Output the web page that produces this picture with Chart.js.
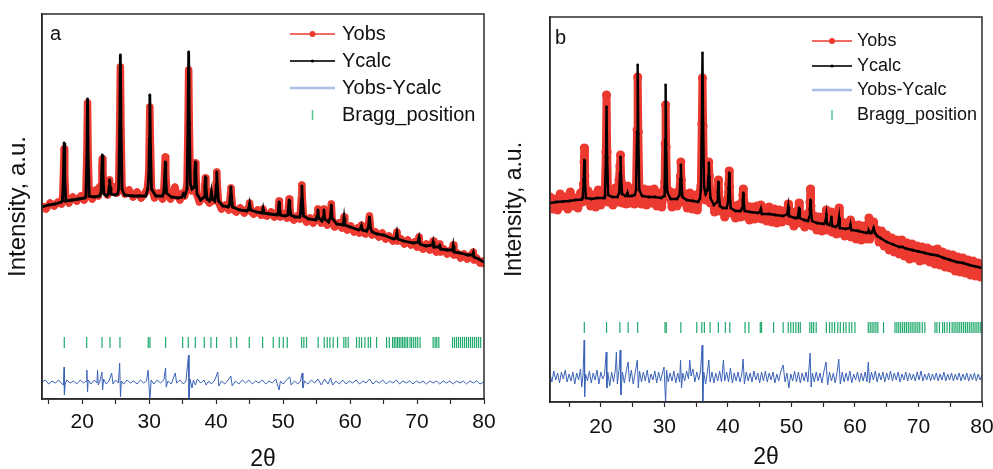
<!DOCTYPE html>
<html>
<head>
<meta charset="utf-8">
<script src="https://cdn.jsdelivr.net/npm/chart.js@4.4.1/dist/chart.umd.min.js"></script>
<style>
  html, body { margin: 0; padding: 0; background: #fff; }
  #wrap { position: relative; width: 993px; height: 469px; overflow: hidden; }
  .panel { position: absolute; top: 0; }
</style>
</head>
<body>
<div id="wrap">
  <div class="panel" style="left:0"><canvas id="chartA" width="500" height="469"></canvas></div>
  <div class="panel" style="left:500px"><canvas id="chartB" width="493" height="469"></canvas></div>
</div>
<script>
// ---- panel a data (2theta, intensity a.u.) ----
const calcA = [[14,192],[15,194],[16,195],[16.9,197],
  [17.05,198],[17.2,222],[17.3,256],[17.4,222],[17.55,198],
  [18.5,199],[19.5,200],[20.4,201],
  [20.55,202],[20.7,240],[20.8,300],[20.9,240],[21.05,203],
  [21.8,202],[22.6,203],
  [22.8,206],[22.92,225],[23.0,244],[23.1,225],[23.25,205],
  [23.7,203],
  [23.9,205],[24.02,212],[24.1,219],[24.18,212],[24.3,205],
  [24.9,204],[25.3,205],
  [25.45,210],[25.6,270],[25.7,344],[25.8,270],[25.95,210],
  [26.3,204],[27.5,203],[28.5,203],[29.5,203],
  [29.8,210],[29.95,225],[30.05,260],[30.1,304],[30.2,250],[30.35,210],
  [31,203],[32,203],
  [32.2,207],[32.32,222],[32.4,237],[32.48,222],[32.6,206],
  [33.3,202],[34.3,201],[34.9,202],[35.1,205],[35.3,203],
  [35.65,210],[35.8,275],[35.9,347],[36.0,275],[36.15,215],[36.4,210],
  [36.7,212],[36.82,225],[36.9,237],[36.98,224],[37.15,205],
  [37.7,199],
  [38.2,202],[38.32,212],[38.4,222],[38.48,212],[38.65,200],
  [39.0,198],[39.15,200],[39.3,207],[39.45,200],[39.8,198],
  [39.9,202],[40.02,214],[40.1,227],[40.18,214],[40.35,198],
  [41,193],[41.8,192],
  [42.0,194],[42.12,203],[42.2,212],[42.28,203],[42.45,192],
  [43.5,189],[44.6,188],
  [44.85,190],[45.0,195],[45.15,189],
  [46,187],[46.8,186],
  [46.9,187],[47.0,190],[47.1,186],
  [48,185],[49.1,184],
  [49.25,186],[49.33,191],[49.4,197],[49.47,191],[49.6,184],
  [50.3,183],[50.7,184],
  [50.8,190],[50.9,199],[51.0,191],[51.15,184],
  [51.8,182],[52.5,182],
  [52.6,186],[52.72,199],[52.8,213],[52.88,199],[53.05,183],
  [53.8,180],[54.9,179],
  [55.08,183],[55.2,189],[55.32,181],
  [55.8,178],
  [55.98,182],[56.1,189],[56.22,180],
  [56.8,177],
  [57.08,182],[57.2,194],[57.32,181],
  [58,175],[58.9,174],
  [59.0,176],[59.1,181],[59.22,174],
  [60,172],[61.3,169],
  [61.6,171],[61.7,173],[61.85,169],
  [62.5,168],
  [62.75,172],[62.9,182],[63.05,171],[63.3,167],
  [64,165],[65,164],[66.5,160],
  [66.85,161],[67.0,166],[67.15,160],
  [68,158],[69.5,156],
  [70.15,157],[70.3,161],[70.45,155],
  [71.3,153],
  [72.28,154],[72.4,157],[72.52,152],
  [73.3,152],[73.4,154],[73.52,150],
  [74.5,149],
  [75.3,149],[75.4,153],[75.52,147],
  [76.5,146],[77.6,144],
  [78.3,144],[78.4,146],[78.52,142],
  [79.2,140],[80,137]];

const obsA = [[14,193],[14.6,190],[15.2,196],[15.8,193],[16.4,197],[16.9,195],
  [17.1,203],[17.2,225],[17.3,250],[17.4,222],[17.55,200],
  [18,196],[18.6,202],[19.2,198],[19.8,203],[20.3,199],
  [20.55,205],[20.7,245],[20.8,296],[20.9,242],[21.05,204],
  [21.5,200],[22,209],[22.4,203],[22.6,212],
  [22.85,214],[22.95,232],[23.0,240],[23.1,226],[23.3,209],
  [23.6,214],[23.8,204],
  [24.0,214],[24.1,219],[24.2,211],[24.4,207],
  [24.8,212],[25.2,206],
  [25.45,214],[25.6,272],[25.7,332],[25.8,268],[25.95,212],
  [26.4,205],[27,209],[27.6,202],[28.2,207],[28.8,201],[29.4,206],
  [29.75,211],[29.95,228],[30.1,292],[30.2,252],[30.35,211],
  [30.8,201],[31.4,206],[32,200],
  [32.2,210],[32.32,228],[32.4,242],[32.48,226],[32.65,206],
  [33.2,200],[33.6,207],[33.85,212],[34.1,204],[34.6,199],[35.0,206],[35.3,203],
  [35.65,214],[35.8,272],[35.9,329],[36.0,272],[36.15,214],[36.4,208],
  [36.7,214],[36.82,226],[36.9,236],[36.98,224],[37.15,204],
  [37.5,197],[37.9,202],
  [38.2,204],[38.32,214],[38.4,221],[38.48,211],[38.65,199],
  [39.0,196],[39.15,201],[39.3,207],[39.45,198],[39.8,199],
  [39.9,204],[40.02,217],[40.1,227],[40.18,214],[40.35,197],
  [40.8,190],[41.4,194],[41.9,189],
  [42.05,197],[42.15,206],[42.22,211],[42.3,202],[42.5,190],
  [43,187],[43.6,191],[44.2,186],[44.7,190],
  [44.9,192],[45.0,196],[45.15,188],
  [45.6,185],[46.2,189],[46.7,184],
  [46.9,188],[47.0,190],[47.15,184],
  [47.6,183],[48.2,187],[48.7,182],[49.1,186],
  [49.25,188],[49.33,193],[49.4,198],[49.47,191],[49.6,182],
  [50.1,185],[50.6,181],
  [50.8,192],[50.9,200],[51.0,193],[51.15,183],
  [51.6,179],[52.1,183],[52.5,180],
  [52.6,188],[52.72,201],[52.8,214],[52.88,200],[53.05,182],
  [53.5,177],[54,181],[54.5,176],[54.9,180],
  [55.08,184],[55.2,190],[55.32,180],
  [55.7,176],
  [55.98,183],[56.1,190],[56.22,178],
  [56.6,174],[56.9,178],
  [57.08,184],[57.2,195],[57.32,180],
  [57.7,172],[58.3,176],[58.8,171],
  [59.0,177],[59.1,182],[59.22,172],
  [59.6,169],[60.1,173],[60.6,167],[61.1,171],[61.4,166],
  [61.6,172],[61.7,174],[61.85,167],
  [62.3,165],[62.6,170],
  [62.75,174],[62.9,183],[63.05,172],[63.3,164],
  [63.8,167],[64.3,162],[64.8,166],[65.3,160],[65.8,163],[66.4,158],
  [66.85,162],[67.0,167],[67.15,158],
  [67.6,160],[68.1,155],[68.6,159],[69.1,154],[69.6,157],[70.0,152],
  [70.15,158],[70.3,162],[70.45,153],
  [70.9,150],[71.4,155],[71.9,149],
  [72.28,155],[72.4,158],[72.52,150],
  [72.9,147],
  [73.3,153],[73.4,155],[73.52,147],
  [74,150],[74.5,145],[75,149],
  [75.3,150],[75.4,154],[75.52,144],
  [76,146],[76.5,141],[77,145],[77.5,140],[78,144],
  [78.3,145],[78.4,147],[78.52,139],
  [78.9,141],[79.4,136],[79.9,138],[80,135]];

const diffA = [[14,17],[14.5,19],[15,15],[15.5,18],[16,16],[16.5,19],[17,15],
  [17.2,14],[17.3,32],[17.35,4],[17.45,15],[17.7,19],
  [18.2,16],[18.7,18],[19.2,15],[19.7,19],[20.2,16],
  [20.6,18],[20.7,29],[20.8,7],[20.9,19],[21.3,15],[21.8,19],
  [22.2,16],[22.3,29],[22.4,14],[22.7,19],[22.95,27],[23.05,9],[23.2,20],[23.6,15],
  [24.0,18],[24.4,26],[24.6,15],[25.0,19],[25.4,16],[25.6,36],[25.72,2],[25.85,18],
  [26.2,15],[26.7,19],[27.2,16],[27.7,18],[28.2,15],[28.7,19],[29.2,16],[29.6,18],
  [29.85,29],[30.1,-2],[30.3,19],[30.7,15],[31.2,19],[31.7,16],[32.2,19],
  [32.45,31],[32.55,12],[32.8,18],[33.3,15],[33.9,26],[34.1,16],[34.6,19],[35.1,15],[35.5,18],
  [35.88,44],[35.95,-4],[36.1,20],[36.4,11],[36.6,19],[36.9,14],[37.2,20],[37.7,16],[38.2,19],
  [38.5,14],[38.9,18],[39.3,15],[39.8,19],
  [40.25,27],[40.4,13],[40.8,18],[41.3,15],[41.8,19],[42.2,23],[42.4,13],[42.9,18],[43.4,15],
  [43.9,19],[44.4,16],[44.9,19],[45.4,15],[45.9,18],[46.4,16],[46.9,19],[47.4,15],[47.9,18],
  [48.4,16],[48.9,20],[49.4,9],[49.6,18],[50.0,15],[50.5,19],[51.0,22],[51.2,14],[51.7,18],
  [52.2,15],[52.6,18],[52.85,26],[52.95,11],[53.2,18],[53.7,15],[54.2,19],[54.7,16],[55.2,20],
  [55.7,14],[56.2,20],[56.7,15],[57.1,21],[57.4,14],[57.9,18],[58.4,15],[58.9,19],[59.4,15],
  [59.9,18],[60.4,16],[60.9,19],[61.4,15],[61.9,18],[62.4,16],[62.9,20],[63.4,15],[63.9,18],
  [64.4,16],[64.9,19],[65.4,15],[65.9,18],[66.4,16],[66.9,19],[67.4,15],[67.9,18],[68.4,16],
  [68.9,18],[69.4,15],[69.9,18],[70.4,16],[70.9,18],[71.4,15],[71.9,18],[72.4,16],[72.9,18],
  [73.4,15],[73.9,18],[74.4,16],[74.9,18],[75.4,15],[75.9,18],[76.4,16],[76.9,18],[77.4,15],
  [77.9,18],[78.4,16],[78.9,18],[79.4,15],[80,17]];

const braggA = [17.33,20.67,22.96,24.15,25.64,29.87,30.12,32.46,35.0,35.84,36.89,38.23,39.23,40.07,
  42.21,43.06,44.95,46.94,48.53,49.43,50.03,50.62,52.76,53.1,53.5,55.24,56.14,56.59,56.99,57.48,
  58.13,59.07,59.37,59.72,60.97,61.37,61.72,62.22,62.72,63.06,63.96,65.45,65.85,
  66.35,66.6,66.85,67.1,67.35,67.6,67.85,68.1,68.35,68.6,68.95,69.2,69.5,69.8,70.1,70.45,
  72.4,72.7,72.95,73.25,75.3,75.6,75.9,76.2,76.5,76.8,77.1,77.4,77.7,78.0,78.3,78.6,78.9,79.2,79.5];
const braggLevelA = 56.5;

// ---- panel b data ----
const calcB = [[12,199],[13,200],[14,200.5],[15,201],[16,202],[17.0,202.5],
  [17.15,204],[17.3,222],[17.4,242],[17.5,221],[17.65,204],
  [18.5,203],[19.5,204],[20.5,204],
  [20.65,206],[20.8,245],[20.9,295],[21.0,244],[21.15,207],
  [21.8,205],[22.6,205],
  [22.9,209],[23.02,228],[23.1,245],[23.18,226],[23.35,208],
  [23.9,206],[24.1,207],[24.2,209],[24.3,206],
  [24.9,206],[25.35,207],
  [25.55,212],[25.7,270],[25.8,337],[25.9,268],[26.05,212],
  [26.5,206],[27.5,205],[28.5,205],[29.5,204],[29.95,206],
  [30.05,215],[30.13,262],[30.2,317],[30.28,258],[30.45,210],
  [31,203],[32,203],
  [32.4,207],[32.52,223],[32.6,237],[32.68,222],[32.85,205],
  [33.5,202],[34.5,201],[35.3,200],[35.6,203],
  [35.75,212],[35.9,280],[36.0,349],[36.1,278],[36.25,215],[36.5,208],
  [36.8,212],[36.92,226],[37.0,239],[37.08,225],[37.25,204],
  [37.8,197],
  [38.3,200],[38.42,210],[38.5,220],[38.58,209],[38.75,196],
  [39.2,194],[39.8,194],
  [40.0,199],[40.12,214],[40.2,229],[40.28,213],[40.45,194],
  [41.2,191],[42,191],
  [42.25,194],[42.35,202],[42.42,209],[42.5,200],[42.65,191],
  [43.5,190],[44.7,189],
  [45.05,190],[45.2,193],[45.35,188],
  [46.5,188],[47.5,187],[48.7,186],
  [49.35,188],[49.5,195],[49.62,186],
  [50.5,184],[50.9,184],
  [51.08,187],[51.2,194],[51.32,184],
  [52,182],[52.6,181],
  [52.82,185],[52.92,193],[53.0,202],[53.08,192],[53.25,181],
  [54,179],[55.1,178],
  [55.38,181],[55.5,187],[55.62,178],
  [56.0,177],
  [56.2,179],[56.3,185],[56.42,176],
  [57.0,175],
  [57.38,178],[57.5,184],[57.62,174],
  [58.5,173],
  [59.2,174],[59.3,177],[59.42,172],
  [60.5,171],[61.8,169],
  [62.1,170],[62.2,171],[62.35,169],
  [62.6,169],[62.8,171],[62.95,174],[63.15,169],[63.5,166],
  [64,164],[65,160],[66,157.5],[67,155],[67.5,155],[68,153.5],[69,152],[70,150.5],[71,149],
  [72,147.5],[73,146.5],[74,144],[75,142],[76,140],[77,139],[78,137],[79,135.5],[80,134]];

const obsB = [[12,205],[12.4,193],[12.8,203],[13.2,192],[13.6,208],[14,196],[14.4,205],[14.8,193],
  [15.2,210],[15.6,196],[16,204],[16.4,194],[16.8,209],
  [17.1,200],[17.25,218],[17.35,240],[17.4,254],[17.5,226],[17.65,202],
  [18,211],[18.4,196],[18.8,207],[19.2,195],[19.6,212],[20,197],[20.4,209],
  [20.65,214],[20.8,250],[20.9,307],[21.0,250],[21.15,200],
  [21.5,211],[21.9,197],[22.3,214],[22.6,200],
  [22.85,222],[23.0,236],[23.1,247],[23.2,221],[23.4,199],
  [23.7,214],[24.0,198],[24.2,216],[24.5,199],[24.9,213],[25.3,198],
  [25.55,216],[25.7,272],[25.8,325],[25.9,270],[26.05,212],
  [26.4,198],[26.8,213],[27.2,197],[27.6,212],[28,199],[28.4,213],[28.8,196],[29.2,209],[29.6,195],[29.9,210],
  [30.05,220],[30.13,258],[30.2,297],[30.28,255],[30.45,206],
  [30.8,211],[31.2,195],[31.6,209],[32.0,196],
  [32.4,212],[32.52,226],[32.6,240],[32.68,222],[32.85,200],
  [33.2,208],[33.6,194],[34,209],[34.4,193],[34.8,207],[35.2,192],[35.5,208],
  [35.75,216],[35.9,278],[36.0,324],[36.1,276],[36.25,220],[36.5,202],
  [36.8,216],[36.92,228],[37.0,240],[37.08,226],[37.25,199],
  [37.6,204],[37.9,190],
  [38.3,205],[38.42,213],[38.5,222],[38.58,210],[38.75,191],
  [39.1,200],[39.5,185],[39.8,198],
  [40.0,204],[40.12,218],[40.2,231],[40.28,215],[40.45,189],
  [40.8,196],[41.2,184],[41.6,197],[42.0,185],
  [42.25,200],[42.35,207],[42.42,213],[42.5,202],[42.65,186],
  [43,196],[43.4,182],[43.8,195],[44.2,183],[44.6,196],[44.9,184],
  [45.1,195],[45.2,197],[45.35,183],
  [45.7,194],[46.1,181],[46.5,195],[46.9,180],[47.3,193],[47.7,179],[48.1,192],[48.5,180],[48.9,191],
  [49.35,192],[49.5,198],[49.62,181],
  [50,190],[50.4,176],[50.8,190],
  [51.08,192],[51.2,199],[51.32,179],
  [51.7,187],[52.1,175],[52.5,188],
  [52.82,190],[52.92,200],[53.0,213],[53.08,196],[53.25,176],
  [53.6,186],[54,172],[54.4,185],[54.8,171],[55.1,184],
  [55.38,187],[55.5,192],[55.62,172],
  [55.9,183],
  [56.2,185],[56.3,190],[56.42,170],
  [56.8,181],[57.1,168],
  [57.38,184],[57.5,194],[57.62,169],
  [58,180],[58.4,166],[58.8,179],
  [59.2,180],[59.3,182],[59.42,165],
  [59.8,177],[60.2,163],[60.6,177],[61,162],[61.4,176],[61.8,163],
  [62.1,178],[62.2,184],[62.35,163],
  [62.6,174],[62.8,177],[62.95,180],[63.15,168],[63.5,172],
  [63.8,160],[64.2,171],[64.6,156],[65,167],[65.4,152],[65.8,164],[66.2,150],[66.6,162],[67,148],
  [67.4,162],[67.8,146],[68.2,159],[68.6,143],[69,158],[69.4,144],[69.8,156],[70.2,141],[70.6,155],
  [71,142],[71.4,154],[71.8,140],[72.2,152],[72.6,138],[73,153],[73.4,137],[73.8,150],[74.2,135],
  [74.6,148],[75,134],[75.4,147],[75.8,131],[76.2,145],[76.6,130],[77,144],[77.4,129],[77.8,142],
  [78.2,127],[78.6,141],[79,126],[79.4,139],[79.8,125],[80,136]];

const diffB = [[12,28],[12.3,20],[12.6,31],[12.9,22],[13.2,29],[13.5,19],[13.8,30],[14.1,23],[14.4,32],
  [14.7,20],[15,28],[15.3,21],[15.6,30],[15.9,18],[16.2,29],[16.5,22],[16.8,33],[17.0,15],[17.2,27],
  [17.38,62],[17.45,5],[17.6,28],[17.9,21],[18.2,31],[18.5,19],[18.8,29],[19.1,22],[19.4,32],[19.7,18],
  [20.0,30],[20.3,23],[20.6,28],
  [20.85,50],[20.95,14],[21.1,30],[21.4,16],[21.7,30],[22.0,20],[22.3,33],[22.45,50],[22.6,18],[22.9,34],
  [23.05,52],[23.15,7],[23.4,30],[23.7,19],[24.0,31],[24.3,40],[24.5,20],[24.8,32],[25.1,18],[25.4,29],
  [25.75,42],[25.9,14],[26.1,31],[26.4,20],[26.7,30],[27,21],[27.3,32],[27.6,19],[27.9,28],[28.2,22],
  [28.5,31],[28.8,19],[29.1,30],[29.4,21],[29.7,29],[29.95,35],
  [30.2,-2],[30.35,32],[30.6,20],[30.9,29],[31.2,21],[31.5,31],[31.8,19],[32.1,29],[32.4,20],[32.55,42],
  [32.7,14],[32.9,29],[33.2,21],[33.5,31],[33.8,23],[34.0,42],[34.2,26],[34.5,33],[34.8,20],[35.1,30],
  [35.4,22],[35.7,31],
  [35.95,57],[36.05,-3],[36.2,30],[36.5,18],[36.8,31],[37.0,42],[37.2,20],[37.5,30],[37.8,19],[38.1,29],
  [38.4,21],[38.7,31],[39.0,20],[39.3,42],[39.5,21],[39.8,30],[40.1,20],[40.4,34],[40.7,19],[41.0,29],
  [41.3,21],[41.6,30],[41.9,20],[42.2,28],[42.4,43],[42.6,18],[42.9,30],[43.2,21],[43.5,29],[43.8,20],
  [44.1,31],[44.4,22],[44.7,29],[45.0,19],[45.3,30],[45.6,21],[45.9,31],[46.2,20],[46.5,29],[46.8,22],
  [47.1,30],[47.4,19],[47.7,28],[48.0,21],[48.3,30],[48.7,37],[49.0,20],[49.3,29],[49.6,14],[49.9,28],
  [50.2,21],[50.5,31],[50.8,20],[51.1,30],[51.4,19],[51.7,29],[52.0,21],[52.3,30],[52.6,20],
  [52.95,49],[53.1,15],[53.3,29],[53.6,20],[53.9,30],[54.2,21],[54.5,29],[54.8,19],[55.1,30],[55.45,40],
  [55.7,17],[56.0,30],[56.3,21],[56.6,29],[56.9,19],[57.2,30],[57.45,43],[57.7,18],[58,30],[58.3,20],
  [58.6,29],[58.9,21],[59.2,31],[59.5,19],[59.8,28],[60.1,22],[60.4,30],[60.7,20],[61.0,29],[61.3,21],
  [61.6,30],[61.9,20],[62.1,40],[62.3,19],[62.6,30],[62.9,22],[63.2,31],[63.5,20],[63.8,29],[64.1,22],
  [64.4,30],[64.7,20],[65.0,29],[65.3,22],[65.6,31],[65.9,21],[66.2,29],[66.5,22],[66.8,30],[67.1,20],
  [67.4,28],[67.7,22],[68.0,30],[68.3,21],[68.6,29],[68.9,22],[69.2,28],[69.5,21],[69.8,30],[70.1,22],
  [70.4,31],[70.7,21],[71.0,28],[71.3,22],[71.6,29],[71.9,21],[72.2,28],[72.5,22],[72.8,29],[73.1,21],
  [73.4,28],[73.7,22],[74.0,30],[74.3,21],[74.6,28],[74.9,22],[75.2,29],[75.5,21],[75.8,28],[76.1,22],
  [76.4,29],[76.7,21],[77.0,28],[77.3,22],[77.6,29],[77.9,21],[78.2,28],[78.5,22],[78.8,29],[79.1,21],
  [79.4,28],[79.7,22],[80,27]];

const braggB = [17.4,20.9,23.0,24.3,25.8,30.1,30.3,32.6,35.1,35.9,36.3,37.2,38.5,39.6,40.3,42.7,43.3,
  45.1,45.3,47.2,48.7,49.5,49.9,50.3,50.7,51.1,51.4,52.9,53.2,53.5,53.9,55.5,56.0,56.4,56.8,57.3,
  57.7,58.2,58.6,59.1,59.5,60.0,62.1,62.4,62.7,63.0,63.3,63.6,64.5,66.3,66.6,66.9,67.2,67.5,67.8,
  68.1,68.4,68.7,69.0,69.3,69.6,69.9,70.2,70.6,71.0,72.6,72.9,73.3,73.8,74.1,74.5,74.9,75.3,75.6,
  75.9,76.2,76.5,76.8,77.1,77.4,77.7,78.0,78.3,78.6,78.9,79.2,79.5,79.8];
const braggLevelB = 74.5;

const seriesNames = ['Yobs', 'Ycalc', 'Yobs-Ycalc', 'Bragg_position'];
const xTicks = [20, 30, 40, 50, 60, 70, 80];

const FONT = '"Liberation Sans", Arial, Helvetica, sans-serif';
const RED = '#ec3a30';
const BLUE = '#3b63b7';
const GREEN = '#1ea96b';

const pts = arr => arr.map(([x, y]) => ({ x, y }));

// frame, panel letter and legend
const decorPlugin = {
  id: 'decor',
  afterDraw(chart, args, o) {
    const { ctx, chartArea: a } = chart;
    ctx.save();
    ctx.strokeStyle = '#2b2b2b';
    ctx.lineWidth = 1.5;
    ctx.strokeRect(a.left, a.top, a.right - a.left, a.bottom - a.top);

    ctx.fillStyle = '#111';
    ctx.textBaseline = 'middle';
    ctx.textAlign = 'left';
    ctx.font = '20px ' + FONT;
    ctx.fillText(o.letter, o.letterX, o.letterY);

    ctx.font = o.legendSize + 'px ' + FONT;
    const mid = (o.x0 + o.x1) / 2;
    o.rows.forEach((y, i) => {
      ctx.lineCap = 'butt';
      if (i === 0) {
        ctx.strokeStyle = RED; ctx.lineWidth = 1.3;
        ctx.beginPath(); ctx.moveTo(o.x0, y); ctx.lineTo(o.x1, y); ctx.stroke();
        ctx.fillStyle = RED;
        ctx.beginPath(); ctx.arc(mid, y, 3, 0, Math.PI * 2); ctx.fill();
      } else if (i === 1) {
        ctx.strokeStyle = '#333'; ctx.lineWidth = 2;
        ctx.beginPath(); ctx.moveTo(o.x0, y); ctx.lineTo(o.x1, y); ctx.stroke();
        ctx.fillStyle = '#000';
        ctx.beginPath(); ctx.arc(mid, y, 1.6, 0, Math.PI * 2); ctx.fill();
      } else if (i === 2) {
        ctx.strokeStyle = '#a9c0e8'; ctx.lineWidth = 2.5;
        ctx.beginPath(); ctx.moveTo(o.x0, y); ctx.lineTo(o.x1, y); ctx.stroke();
      } else {
        ctx.strokeStyle = '#52c48f'; ctx.lineWidth = 1.5;
        ctx.beginPath(); ctx.moveTo(mid, y - 5); ctx.lineTo(mid, y + 5); ctx.stroke();
      }
      ctx.fillStyle = '#111';
      ctx.fillText(seriesNames[i], o.textX, y);
    });
    ctx.restore();
  }
};

function makeChart(id, d) {
  return new Chart(document.getElementById(id), {
    type: 'scatter',
    data: {
      datasets: [
        {
          label: seriesNames[1], data: pts(d.calc), showLine: true,
          borderColor: '#000', borderWidth: d.calcWidth, pointRadius: 1.4,
          pointBackgroundColor: '#000', pointBorderWidth: 0
        },
        {
          label: seriesNames[0], data: pts(d.obs), showLine: true,
          borderColor: RED, borderWidth: d.obsWidth, borderJoinStyle: 'round',
          pointRadius: d.obsRadius, pointBackgroundColor: RED, pointBorderWidth: 0
        },
        {
          label: seriesNames[2], data: pts(d.diff), showLine: true,
          borderColor: BLUE, borderWidth: 1, pointRadius: 0
        },
        {
          label: seriesNames[3], data: d.bragg.map(x => ({ x, y: d.braggLevel })),
          showLine: false, pointStyle: 'line', rotation: 90, pointRadius: 5.5,
          borderColor: GREEN, pointBorderColor: GREEN, pointBorderWidth: 1.2
        }
      ]
    },
    options: {
      responsive: false,
      animation: false,
      events: [],
      layout: { padding: { top: d.top, right: d.right, left: 0, bottom: 0 } },
      plugins: {
        legend: { display: false },
        tooltip: { enabled: false },
        decor: d.decor
      },
      scales: {
        x: {
          type: 'linear', min: d.xmin, max: 80,
          afterFit: s => { s.height = d.xAxisH; s.paddingLeft = 0; s.paddingRight = 0; },
          border: { display: true, color: '#2b2b2b', width: 1.5 },
          grid: { display: true, drawOnChartArea: false, drawTicks: true, tickLength: 5, tickColor: '#2b2b2b', tickWidth: 1.2 },
          ticks: {
            stepSize: 5, includeBounds: false, autoSkip: false, maxRotation: 0,
            padding: d.tickPad, color: '#111', font: { family: FONT, size: 21 },
            callback: v => (xTicks.includes(v) ? String(v) : '')
          },
          title: {
            display: true, text: '2θ', color: '#111',
            font: { family: FONT, size: 23, lineHeight: 0.8 },
            padding: { top: 0, bottom: d.xTitlePad }
          }
        },
        y: {
          type: 'linear', min: 0, max: 385,
          afterFit: s => { s.width = d.yAxisW; s.paddingTop = 0; s.paddingBottom = 0; },
          border: { display: true, color: '#2b2b2b', width: 1.5 },
          grid: { display: false, drawTicks: false },
          ticks: { display: false },
          title: {
            display: true, text: 'Intensity, a.u.', color: '#111',
            font: { family: FONT, size: d.yTitleSize, lineHeight: 1 },
            padding: { top: d.yTitlePad, bottom: 0 }
          }
        }
      }
    },
    plugins: [decorPlugin]
  });
}

makeChart('chartA', {
  calc: calcA, obs: obsA, diff: diffA, bragg: braggA, braggLevel: braggLevelA,
  calcWidth: 2.8, obsWidth: 7.5, obsRadius: 3.5,
  xmin: 14, top: 14, right: 16, xAxisH: 70, yAxisW: 42,
  tickPad: 6, xTitlePad: 0, yTitlePad: 6, yTitleSize: 24,
  decor: { letter: 'a', letterX: 50, letterY: 34, legendSize: 20,
           rows: [34, 61, 88, 115], x0: 290, x1: 335, textX: 342 }
});

makeChart('chartB', {
  calc: calcB, obs: obsB, diff: diffB, bragg: braggB, braggLevel: braggLevelB,
  calcWidth: 2.4, obsWidth: 8, obsRadius: 4.5,
  xmin: 12, top: 17, right: 11, xAxisH: 67, yAxisW: 50,
  tickPad: 8, xTitlePad: 2, yTitlePad: 3.5, yTitleSize: 23,
  decor: { letter: 'b', letterX: 55, letterY: 38, legendSize: 18,
           rows: [41, 66, 90, 115], x0: 312, x1: 352, textX: 357 }
});
</script>
</body>
</html>
